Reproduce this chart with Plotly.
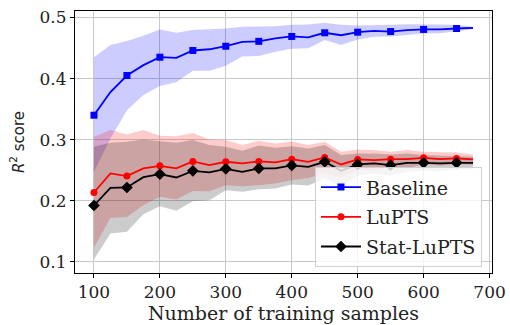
import plotly.graph_objects as go

# Training-set sizes
n_samples = [100, 125, 150, 175, 200, 225, 250, 275, 300, 325, 350, 375,
             400, 425, 450, 475, 500, 525, 550, 575, 600, 625, 650, 675]

# Baseline: mean R^2 and +/- std envelope
baseline_mean = [0.340, 0.378, 0.405, 0.422, 0.435, 0.434, 0.446, 0.448, 0.453, 0.460, 0.461, 0.466,
                 0.469, 0.4675, 0.475, 0.471, 0.476, 0.478, 0.477, 0.4795, 0.4805, 0.4805, 0.482, 0.483]
baseline_upper = [0.435, 0.455, 0.4615, 0.470, 0.4805, 0.475, 0.4795, 0.481, 0.482, 0.485, 0.485, 0.4857,
                  0.488, 0.4885, 0.4915, 0.488, 0.487, 0.487, 0.488, 0.489, 0.489, 0.4885, 0.4877, 0.485]
baseline_lower = [0.247, 0.302, 0.348, 0.373, 0.388, 0.394, 0.413, 0.413, 0.421, 0.436, 0.437, 0.444,
                  0.449, 0.4495, 0.463, 0.455, 0.464, 0.4686, 0.469, 0.4718, 0.474, 0.4743, 0.478, 0.4806]

# LuPTS
lupts_mean = [0.2134, 0.2446, 0.2402, 0.2528, 0.257, 0.2528, 0.2643, 0.2582, 0.2637, 0.261, 0.2643, 0.2626,
              0.268, 0.2637, 0.2708, 0.2593, 0.2675, 0.2664, 0.268, 0.268, 0.2702, 0.268, 0.2692, 0.2675]
lupts_upper = [0.3046, 0.3156, 0.3085, 0.3156, 0.3063, 0.3057, 0.311, 0.300, 0.2992, 0.291, 0.298, 0.2937,
               0.297, 0.291, 0.2964, 0.280, 0.284, 0.2828, 0.280, 0.2828, 0.280, 0.279, 0.2787, 0.2757]
lupts_lower = [0.1233, 0.1718, 0.1734, 0.1926, 0.2063, 0.202, 0.216, 0.2156, 0.2254, 0.2238, 0.2254, 0.2282,
               0.2336, 0.237, 0.245, 0.238, 0.251, 0.250, 0.256, 0.253, 0.260, 0.257, 0.260, 0.259]

# Stat-LuPTS
stat_mean = [0.1921, 0.221, 0.2216, 0.2385, 0.2434, 0.238, 0.2489, 0.2462, 0.2522, 0.2473, 0.2528, 0.2528,
             0.2577, 0.2555, 0.2637, 0.2489, 0.2593, 0.261, 0.2582, 0.262, 0.262, 0.261, 0.262, 0.262]
stat_upper = [0.2882, 0.2948, 0.2964, 0.300, 0.2975, 0.2948, 0.2992, 0.291, 0.2882, 0.2816, 0.2902, 0.2866,
              0.289, 0.2855, 0.291, 0.2746, 0.2773, 0.2773, 0.2757, 0.2773, 0.2746, 0.274, 0.2734, 0.272]
stat_lower = [0.1036, 0.1462, 0.1489, 0.1779, 0.191, 0.1833, 0.1992, 0.2008, 0.2172, 0.2145, 0.2189, 0.220,
              0.2266, 0.225, 0.236, 0.223, 0.241, 0.245, 0.241, 0.247, 0.249, 0.248, 0.251, 0.252]

x_ticks = [100, 200, 300, 400, 500, 600, 700]
y_ticks = [0.1, 0.2, 0.3, 0.4, 0.5]

series = [
    ("Baseline", baseline_mean, baseline_upper, baseline_lower, "#0000ff", "rgba(0,0,255,0.2)", "square", 7),
    ("LuPTS", lupts_mean, lupts_upper, lupts_lower, "#ff0000", "rgba(255,0,0,0.2)", "circle", 7),
    ("Stat-LuPTS", stat_mean, stat_upper, stat_lower, "#000000", "rgba(0,0,0,0.2)", "diamond", 9),
]

fig = go.Figure()

# Shaded std envelopes
for name, mean, upper, lower, color, fill, symbol, msize in series:
    fig.add_trace(go.Scatter(
        x=n_samples + n_samples[::-1], y=upper + lower[::-1],
        fill="toself", fillcolor=fill, line=dict(width=0),
        mode="lines", hoverinfo="skip", showlegend=False))

# Mean curves, with a marker on every other point
for name, mean, upper, lower, color, fill, symbol, msize in series:
    fig.add_trace(go.Scatter(
        x=n_samples, y=mean, mode="lines",
        line=dict(color=color, width=1.8), showlegend=False))
    fig.add_trace(go.Scatter(
        x=n_samples[::2], y=mean[::2], mode="markers",
        marker=dict(symbol=symbol, size=msize, color=color, line=dict(width=0)),
        showlegend=False))
    fig.add_trace(go.Scatter(
        x=[None], y=[None], mode="lines+markers", name=name, legendgroup=name,
        line=dict(color=color, width=1.8),
        marker=dict(symbol=symbol, size=msize, color=color, line=dict(width=0))))

axis_common = dict(
    showline=True, linecolor="black", linewidth=1, mirror=True,
    ticks="outside", ticklen=4, tickcolor="black", tickwidth=1,
    showgrid=True, gridcolor="#c8c8c8", gridwidth=1.2, zeroline=False,
    automargin=False,
    tickfont=dict(family="DejaVu Serif", size=17, color="#222222"),
)

fig.update_layout(
    width=510, height=325,
    margin=dict(l=75, r=18, t=11, b=52),
    plot_bgcolor="white", paper_bgcolor="white",
    xaxis=dict(range=[71.25, 703.75], tickvals=x_ticks,
               title=dict(text="Number of training samples", standoff=4,
                          font=dict(family="DejaVu Serif", size=19, color="#222222")),
               **axis_common),
    yaxis=dict(range=[0.0815, 0.5107], tickvals=y_ticks, ticktext=[f"{v:.1f}" for v in y_ticks],
               title=dict(text="<i>R</i><sup>2</sup> score", standoff=11,
                          font=dict(family="DejaVu Sans", size=15, color="#222222")),
               **axis_common),
    legend=dict(x=0.976, y=0.022, xanchor="right", yanchor="bottom",
                bgcolor="rgba(255,255,255,0.8)", bordercolor="#d0d0d0", borderwidth=1,
                font=dict(family="DejaVu Serif", size=19, color="#222222"),
                tracegroupgap=2, itemwidth=40),
    showlegend=True,
)

fig.write_html("out.html")
